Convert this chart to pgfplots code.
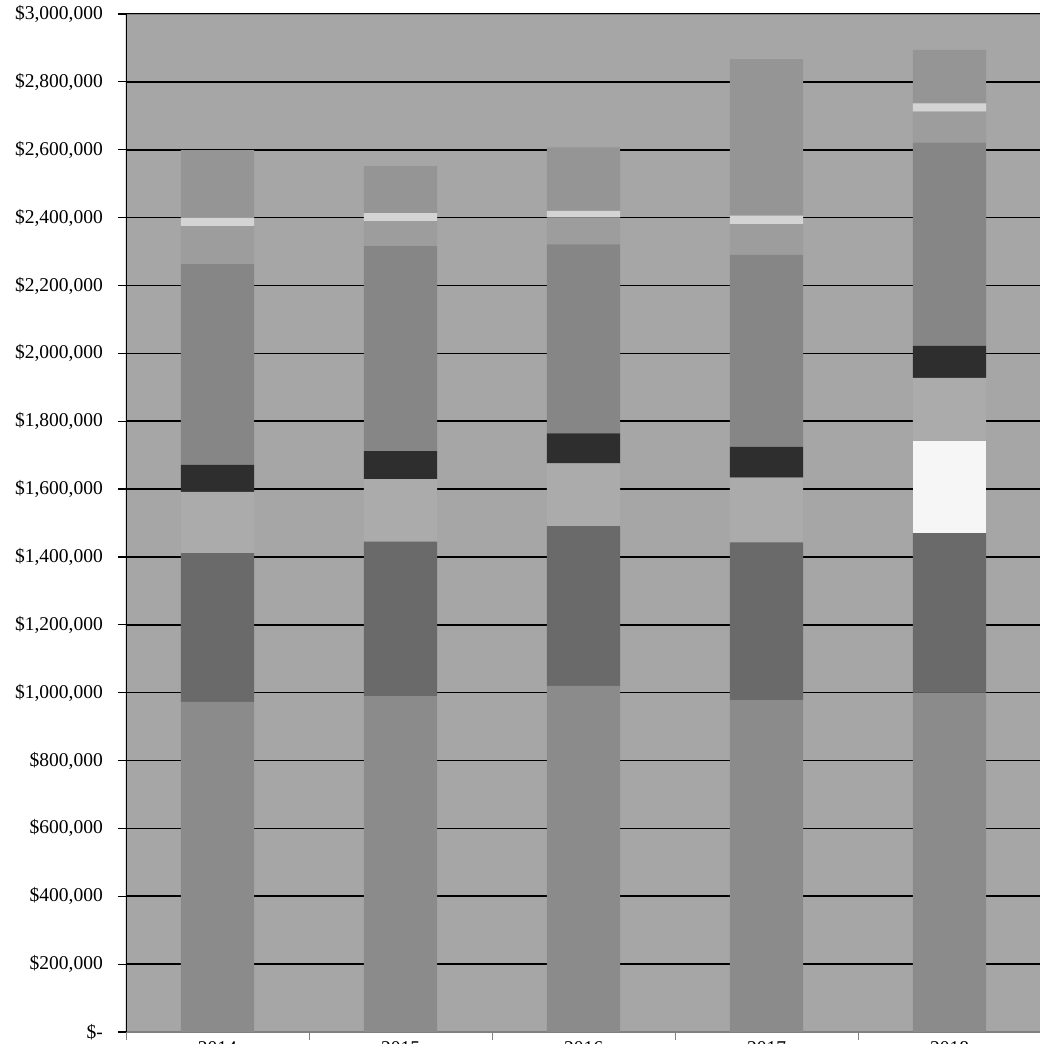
\documentclass[border=0pt]{standalone}
\usepackage{pgfplots}
\pgfplotsset{compat=1.18}
\usepackage{fontspec}
\setmainfont{Liberation Serif}

\definecolor{plotbg}{HTML}{A6A6A6}
\definecolor{segA}{HTML}{8B8B8B}
\definecolor{segB}{HTML}{6A6A6A}
\definecolor{segC}{HTML}{F6F6F6}
\definecolor{segD}{HTML}{ABABAB}
\definecolor{segE}{HTML}{2E2E2E}
\definecolor{segF}{HTML}{868686}
\definecolor{segG}{HTML}{9D9D9D}
\definecolor{segH}{HTML}{D4D4D4}
\definecolor{segI}{HTML}{959595}
\definecolor{axisgray}{HTML}{808080}

\begin{document}
\begin{tikzpicture}
\begin{axis}[
  name=ax, at={(0,0)}, anchor=south west,
  scale only axis, width=915pt, height=1018pt,
  ybar stacked, bar width=0.4,
  xmin=-0.5, xmax=4.5, ymin=0, ymax=3000000,
  enlargelimits=false,
  axis background/.style={fill=plotbg},
  axis line style={draw=none},
  xtick={-0.5,0.5,1.5,2.5,3.5,4.5},
  x tick label as interval,
  xticklabels={2014,2015,2016,2017,2018},
  ytick={0,200000,400000,600000,800000,1000000,1200000,1400000,1600000,1800000,2000000,2200000,2400000,2600000,2800000,3000000},
  yticklabels={{\$-},{\$200,000},{\$400,000},{\$600,000},{\$800,000},{\$1,000,000},{\$1,200,000},{\$1,400,000},{\$1,600,000},{\$1,800,000},{\$2,000,000},{\$2,200,000},{\$2,400,000},{\$2,600,000},{\$2,800,000},{\$3,000,000}},
  tick align=outside, tick pos=left, major tick length=8pt,
  ytick style={black, line width=1.2pt},
  xtick style={axisgray, line width=0.8pt},
  ymajorgrids, grid style={black, line width=1.6pt},
  tick label style={font=\fontsize{19.5}{22}\selectfont},
  yticklabel style={anchor=east, inner sep=0pt, xshift=-15pt},
  xticklabel style={anchor=north, inner sep=0pt, yshift=-1pt},
  scaled y ticks=false,
]
% bottom to top
\addplot+[fill=segA, draw=none] coordinates {(0,973000) (1,990000) (2,1020000) (3,978000) (4,1000000)};
\addplot+[fill=segB, draw=none] coordinates {(0,438000) (1,455000) (2,471000) (3,465000) (4,470000)};
\addplot+[fill=segC, draw=none] coordinates {(0,0) (1,0) (2,0) (3,0) (4,273000)};
\addplot+[fill=segD, draw=none] coordinates {(0,181000) (1,184000) (2,185000) (3,191000) (4,185000)};
\addplot+[fill=segE, draw=none] coordinates {(0,79000) (1,83000) (2,88000) (3,90000) (4,94000)};
\addplot+[fill=segF, draw=none] coordinates {(0,592000) (1,604000) (2,557000) (3,566000) (4,599000)};
\addplot+[fill=segG, draw=none] coordinates {(0,112000) (1,74000) (2,80000) (3,91000) (4,91000)};
\addplot+[fill=segH, draw=none] coordinates {(0,26000) (1,23000) (2,19000) (3,25000) (4,25000)};
\addplot+[fill=segI, draw=none] coordinates {(0,198000) (1,139000) (2,187000) (3,461000) (4,157000)};

\draw[black, line width=1.3pt] (rel axis cs:0,0) -- (rel axis cs:0,1);
\draw[axisgray, line width=1.6pt] (rel axis cs:0,0) -- (rel axis cs:1,0);
\draw[axisgray, line width=1pt] (rel axis cs:0,1) -- (rel axis cs:1,1);
\end{axis}
\pgfresetboundingbox
\path[use as bounding box] (-126pt,-12pt) rectangle (914pt,1032pt);
\end{tikzpicture}
\end{document}
